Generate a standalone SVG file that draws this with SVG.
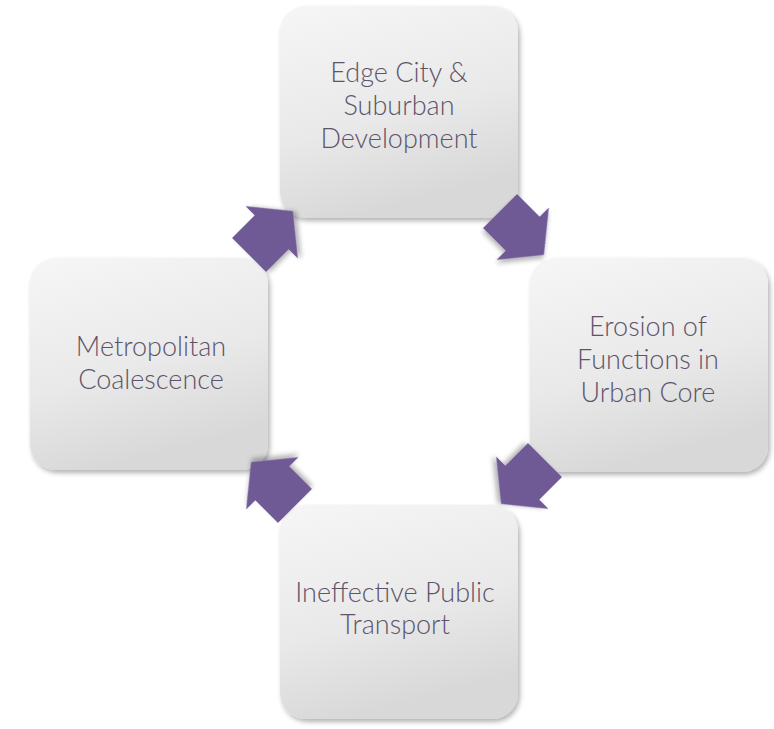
<svg xmlns="http://www.w3.org/2000/svg" width="774" height="729" viewBox="0 0 774 729">
  <defs>
    <linearGradient id="boxFill" x1="0" y1="0" x2="0.3" y2="1">
      <stop offset="0" stop-color="#f6f6f6"/>
      <stop offset="0.6" stop-color="#e9e9e9"/>
      <stop offset="1" stop-color="#d8d8d8"/>
    </linearGradient>
    <filter id="shadow" x="-10%" y="-10%" width="125%" height="125%">
      <feGaussianBlur in="SourceAlpha" stdDeviation="2.5"/>
      <feOffset dx="2" dy="3" result="b"/>
      <feComponentTransfer><feFuncA type="linear" slope="0.3"/></feComponentTransfer>
      <feMerge><feMergeNode/><feMergeNode in="SourceGraphic"/></feMerge>
    </filter>
    <path id="arrow" d="M-31,-24 L1,-24 L1,-37 L31,0 L1,37 L1,24 L-31,24 Z"/>
  </defs>
  <style>
    .box { fill: url(#boxFill); filter: url(#shadow); }
    .lbl { font-family: Lato, "Open Sans", "Liberation Sans", sans-serif; font-size: 27px; font-weight: 300; fill: #5d5469; text-anchor: middle; }
    .arr { fill: #6f5a96; filter: url(#shadow); }
  </style>
  <rect width="774" height="729" fill="#ffffff"/>

  <g id="node-edge-city">
    <rect class="box" x="280" y="6" width="238" height="212" rx="26"/>
    <text class="lbl" x="399" y="82">Edge City &amp;</text>
    <text class="lbl" x="399" y="115">Suburban</text>
    <text class="lbl" x="399" y="148">Development</text>
  </g>

  <g id="node-erosion">
    <rect class="box" x="530" y="258" width="238" height="214" rx="26"/>
    <text class="lbl" x="648" y="336">Erosion of</text>
    <text class="lbl" x="648" y="369">Functions in</text>
    <text class="lbl" x="648" y="402">Urban Core</text>
  </g>

  <g id="node-transport">
    <rect class="box" x="280" y="505" width="238" height="214" rx="26"/>
    <text class="lbl" x="395" y="602">Ineffective Public</text>
    <text class="lbl" x="395" y="634">Transport</text>
  </g>

  <g id="node-metro">
    <rect class="box" x="30" y="258" width="238" height="212" rx="26"/>
    <text class="lbl" x="151" y="356">Metropolitan</text>
    <text class="lbl" x="151" y="389">Coalescence</text>
  </g>

  <g id="connectors">
    <use href="#arrow" class="arr" transform="translate(271,233) rotate(-45)"/>
    <use href="#arrow" class="arr" transform="translate(522,233) rotate(45)"/>
    <use href="#arrow" class="arr" transform="translate(523,482) rotate(135)"/>
    <use href="#arrow" class="arr" transform="translate(273,484) rotate(-135)"/>
  </g>
</svg>
